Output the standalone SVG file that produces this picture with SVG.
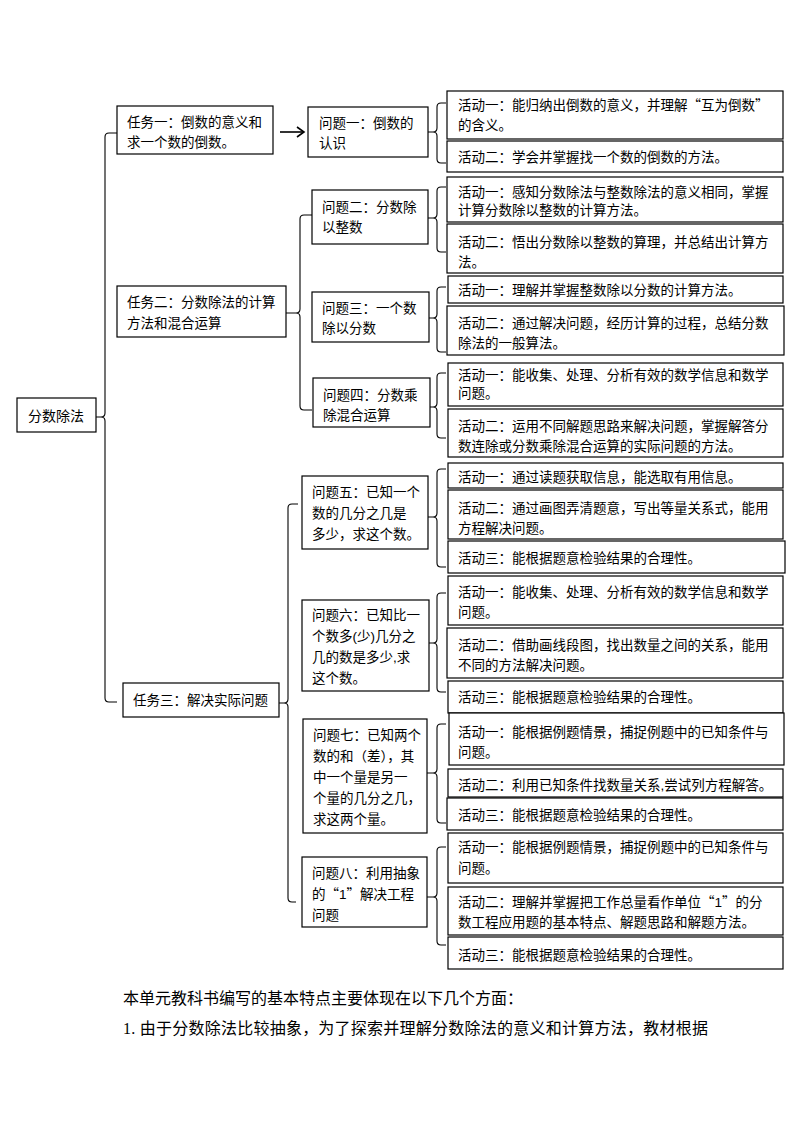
<svg xmlns="http://www.w3.org/2000/svg" width="794" height="1123" viewBox="0 0 794 1123">
<style>
.box{fill:#fff;stroke:#000;stroke-width:1.2}
.br{fill:none;stroke:#000;stroke-width:1.1}
.t{font-family:"Liberation Sans","Noto Sans CJK SC",sans-serif;font-size:13.5px;fill:#000}
.r{font-family:"Liberation Sans","Noto Sans CJK SC",sans-serif;font-size:14px;fill:#000}
.q{font-family:"Noto Sans CJK SC",sans-serif}
.body{font-family:"Liberation Serif","Noto Sans CJK SC",serif;font-size:16px;fill:#000}
</style>
<rect x="0" y="0" width="794" height="1123" fill="#fff"/>
<g id="connectors">
<path class="br" d="M117 133 H109 Q105 133 105 137 V413 Q105 417 101 417 H96 M101 417 Q105 417 105 421 V698 Q105 702 109 702 H117"/>
<path class="br" d="M312 215 H304 Q300 215 300 219 V309 Q300 313 296 313 H286 M296 313 Q300 313 300 317 V406 Q300 410 304 410 H312"/>
<path class="br" d="M298 504 H292 Q288 504 288 508 V699 Q288 703 284 703 H279 M284 703 Q288 703 288 707 V898 Q288 902 292 902 H296"/>
<path class="br" d="M446 103 H441 Q437 103 437 107 V128 Q437 132 433 132 H428 M433 132 Q437 132 437 136 V159 Q437 163 441 163 H446"/>
<path class="br" d="M446 187 H441 Q437 187 437 191 V214 Q437 218 433 218 H428 M433 218 Q437 218 437 222 V248 Q437 252 441 252 H446"/>
<path class="br" d="M446 287 H441 Q437 287 437 291 V314 Q437 318 433 318 H429 M433 318 Q437 318 437 322 V348 Q437 352 441 352 H446"/>
<path class="br" d="M446 373 H441 Q437 373 437 377 V403 Q437 407 433 407 H430 M433 407 Q437 407 437 411 V434 Q437 438 441 438 H446"/>
<path class="br" d="M446 469 H441 Q437 469 437 473 V513 Q437 517 433 517 H428 M433 517 Q437 517 437 521 V563 Q437 567 441 567 H446"/>
<path class="br" d="M446 593 H441 Q437 593 437 597 V639 Q437 643 433 643 H429 M433 643 Q437 643 437 647 V688 Q437 692 441 692 H446"/>
<path class="br" d="M446 724 H441 Q437 724 437 728 V769 Q437 773 433 773 H427 M433 773 Q437 773 437 777 V819 Q437 823 441 823 H446"/>
<path class="br" d="M446 847 H441 Q437 847 437 851 V893 Q437 897 433 897 H427 M433 897 Q437 897 437 901 V941 Q437 945 441 945 H446"/>
<g id="arrow">
<line x1="280" y1="132" x2="304" y2="132" stroke="#000" stroke-width="1.6"/>
<polyline points="297,127 304,132 297,137" fill="none" stroke="#000" stroke-width="1.6"/>
</g>
</g>
<g id="root">
<rect class="box" x="17" y="398" width="79" height="34"/>
<text class="r" x="56" y="421" text-anchor="middle">分数除法</text>
</g>
<g id="task1">
<rect class="box" x="117" y="106" width="156" height="48"/>
<text class="t" x="127" y="127">任务一：倒数的意义和</text>
<text class="t" x="127" y="147">求一个数的倒数。</text>
</g>
<g id="task2">
<rect class="box" x="117" y="286" width="169" height="51"/>
<text class="t" x="127" y="307">任务二：分数除法的计算</text>
<text class="t" x="127" y="328">方法和混合运算</text>
</g>
<g id="task3">
<rect class="box" x="123" y="683" width="156" height="34"/>
<text class="t" x="133" y="705">任务三：解决实际问题</text>
</g>
<g id="q1">
<rect class="box" x="308" y="107" width="120" height="50"/>
<text class="t" x="319" y="128">问题一：倒数的</text>
<text class="t" x="319" y="148">认识</text>
</g>
<g id="q2">
<rect class="box" x="312" y="190" width="116" height="54"/>
<text class="t" x="322" y="212">问题二：分数除</text>
<text class="t" x="322" y="232">以整数</text>
</g>
<g id="q3">
<rect class="box" x="312" y="292" width="117" height="50"/>
<text class="t" x="322" y="313">问题三：一个数</text>
<text class="t" x="322" y="333">除以分数</text>
</g>
<g id="q4">
<rect class="box" x="313" y="378" width="117" height="49"/>
<text class="t" x="323" y="400">问题四：分数乘</text>
<text class="t" x="323" y="420">除混合运算</text>
</g>
<g id="q5">
<rect class="box" x="302" y="476" width="126" height="73"/>
<text class="t" x="312" y="497">问题五：已知一个</text>
<text class="t" x="312" y="518">数的几分之几是</text>
<text class="t" x="312" y="539">多少，求这个数。</text>
</g>
<g id="q6">
<rect class="box" x="302" y="600" width="127" height="91"/>
<text class="t" x="312" y="620">问题六：已知比一</text>
<text class="t" x="312" y="641">个数多(少)几分之</text>
<text class="t" x="312" y="662">几的数是多少,求</text>
<text class="t" x="312" y="683">这个数。</text>
</g>
<g id="q7">
<rect class="box" x="303" y="719" width="124" height="114"/>
<text class="t" x="313" y="740">问题七：已知两个</text>
<text class="t" x="313" y="761">数的和（差），其</text>
<text class="t" x="313" y="782">中一个量是另一</text>
<text class="t" x="313" y="803">个量的几分之几，</text>
<text class="t" x="313" y="824">求这两个量。</text>
</g>
<g id="q8">
<rect class="box" x="302" y="857" width="125" height="70"/>
<text class="t" x="312" y="878">问题八：利用抽象</text>
<text class="t" x="312" y="899">的<tspan class="q">“</tspan>1<tspan class="q">”</tspan>解决工程</text>
<text class="t" x="312" y="920">问题</text>
</g>
<g id="q1a1">
<rect class="box" x="447" y="91" width="336" height="48"/>
<text class="t" x="458" y="110">活动一：能归纳出倒数的意义，并理解<tspan class="q">“</tspan>互为倒数<tspan class="q">”</tspan></text>
<text class="t" x="458" y="130">的含义。</text>
</g>
<g id="q1a2">
<rect class="box" x="447" y="141" width="336" height="31"/>
<text class="t" x="458" y="162">活动二：学会并掌握找一个数的倒数的方法。</text>
</g>
<g id="q2a1">
<rect class="box" x="447" y="177" width="336" height="45"/>
<text class="t" x="458" y="197">活动一：感知分数除法与整数除法的意义相同，掌握</text>
<text class="t" x="458" y="215">计算分数除以整数的计算方法。</text>
</g>
<g id="q2a2">
<rect class="box" x="447" y="224" width="336" height="49"/>
<text class="t" x="458" y="247">活动二：悟出分数除以整数的算理，并总结出计算方</text>
<text class="t" x="458" y="267">法。</text>
</g>
<g id="q3a1">
<rect class="box" x="448" y="276" width="335" height="27"/>
<text class="t" x="458" y="295">活动一：理解并掌握整数除以分数的计算方法。</text>
</g>
<g id="q3a2">
<rect class="box" x="447" y="306" width="337" height="49"/>
<text class="t" x="458" y="328">活动二：通过解决问题，经历计算的过程，总结分数</text>
<text class="t" x="458" y="348">除法的一般算法。</text>
</g>
<g id="q4a1">
<rect class="box" x="448" y="363" width="335" height="43"/>
<text class="t" x="458" y="380">活动一：能收集、处理、分析有效的数学信息和数学</text>
<text class="t" x="458" y="398">问题。</text>
</g>
<g id="q4a2">
<rect class="box" x="448" y="409" width="335" height="48"/>
<text class="t" x="458" y="431">活动二：运用不同解题思路来解决问题，掌握解答分</text>
<text class="t" x="458" y="451">数连除或分数乘除混合运算的实际问题的方法。</text>
</g>
<g id="q5a1">
<rect class="box" x="448" y="463" width="335" height="25"/>
<text class="t" x="458" y="482">活动一：通过读题获取信息，能选取有用信息。</text>
</g>
<g id="q5a2">
<rect class="box" x="448" y="490" width="335" height="49"/>
<text class="t" x="458" y="513">活动二：通过画图弄清题意，写出等量关系式，能用</text>
<text class="t" x="458" y="533">方程解决问题。</text>
</g>
<g id="q5a3">
<rect class="box" x="448" y="541" width="337" height="32"/>
<text class="t" x="458" y="563">活动三：能根据题意检验结果的合理性。</text>
</g>
<g id="q6a1">
<rect class="box" x="448" y="576" width="335" height="49"/>
<text class="t" x="458" y="597">活动一：能收集、处理、分析有效的数学信息和数学</text>
<text class="t" x="458" y="617">问题。</text>
</g>
<g id="q6a2">
<rect class="box" x="447" y="628" width="336" height="50"/>
<text class="t" x="458" y="650">活动二：借助画线段图，找出数量之间的关系，能用</text>
<text class="t" x="458" y="670">不同的方法解决问题。</text>
</g>
<g id="q6a3">
<rect class="box" x="448" y="681" width="335" height="32"/>
<text class="t" x="458" y="702">活动三：能根据题意检验结果的合理性。</text>
</g>
<g id="q7a1">
<rect class="box" x="449" y="713" width="335" height="52"/>
<text class="t" x="458" y="737">活动一：能根据例题情景，捕捉例题中的已知条件与</text>
<text class="t" x="458" y="757">问题。</text>
</g>
<g id="q7a2">
<rect class="box" x="448" y="769" width="335" height="28"/>
<text class="t" x="458" y="790">活动二：利用已知条件找数量关系,尝试列方程解答。</text>
</g>
<g id="q7a3">
<rect class="box" x="447" y="798" width="336" height="32"/>
<text class="t" x="458" y="820">活动三：能根据题意检验结果的合理性。</text>
</g>
<g id="q8a1">
<rect class="box" x="448" y="833" width="335" height="50"/>
<text class="t" x="458" y="852">活动一：能根据例题情景，捕捉例题中的已知条件与</text>
<text class="t" x="458" y="873">问题。</text>
</g>
<g id="q8a2">
<rect class="box" x="448" y="887" width="335" height="48"/>
<text class="t" x="458" y="907">活动二：理解并掌握把工作总量看作单位<tspan class="q">“</tspan>1<tspan class="q">”</tspan>的分</text>
<text class="t" x="458" y="927">数工程应用题的基本特点、解题思路和解题方法。</text>
</g>
<g id="q8a3">
<rect class="box" x="448" y="937" width="335" height="32"/>
<text class="t" x="458" y="960">活动三：能根据题意检验结果的合理性。</text>
</g>
<g id="body-text">
<text class="body" x="123" y="1004">本单元教科书编写的基本特点主要体现在以下几个方面：</text>
<text class="body" x="123" y="1034" textLength="585" lengthAdjust="spacing">1. 由于分数除法比较抽象，为了探索并理解分数除法的意义和计算方法，教材根据</text>
</g>
</svg>
